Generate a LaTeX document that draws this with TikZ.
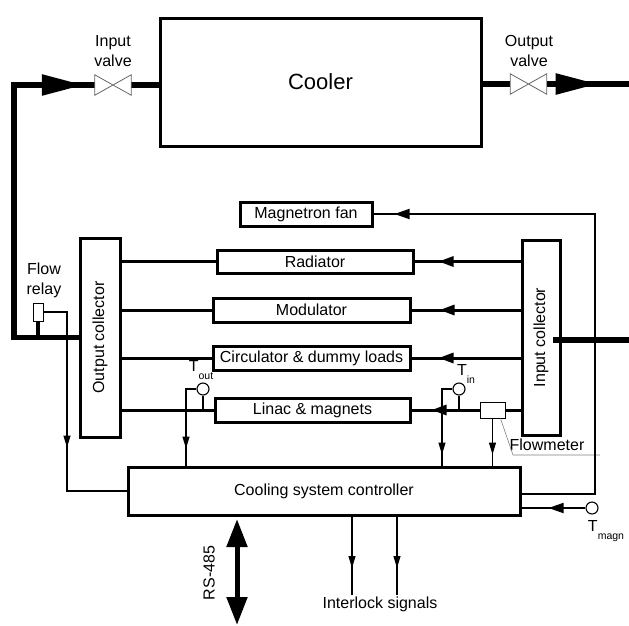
\documentclass[tikz,border=0pt]{standalone}
\usepackage{fontspec}
\setmainfont{Liberation Sans}
\usetikzlibrary{arrows.meta,decorations.markings}

\newcommand{\tsub}[2]{#1\raisebox{-0.45em}{\fontsize{10.5}{11}\selectfont #2}}

\begin{document}
\begin{tikzpicture}[x=1pt,y=-1pt,
		every node/.style={font=\fontsize{16}{20}\selectfont},
		box/.style={draw,line width=3pt,inner sep=0pt},
		pipe/.style={line width=5.5pt},
		feed/.style={line width=3pt},
		wire/.style={line width=1.8pt},
		sigline/.style={line width=1.1pt},
		valveline/.style={draw=black!60,fill=white,line width=0.8pt},
		sensor/.style={circle,draw,line width=1.1pt,fill=white,minimum size=12pt,inner sep=0pt},
		pipetip/.style={postaction={decorate},decoration={markings,mark=at position #1 with {\arrow{Triangle[length=42pt,width=20pt]}}}},
		flowtip/.style={postaction={decorate},decoration={markings,mark=at position #1 with {\arrow{Triangle[length=15pt,width=10pt]}}}},
		sigtip/.style={postaction={decorate},decoration={markings,mark=at position #1 with {\arrow{Triangle[length=12pt,width=7pt]}}}}]
	\useasboundingbox (0,0) rectangle (629,625);
	% cooler and valves
	\node[box,minimum width=321pt,minimum height=128pt,font=\fontsize{22}{24}\selectfont] (cooler) at (320.5,82) {Cooler};
	\node[inner sep=0pt,minimum width=36pt,minimum height=20pt] (inv) at (113,85) {};
	\node[inner sep=0pt,minimum width=36pt,minimum height=20pt] (outv) at (528.5,84) {};
	\node[align=center] (invlab) at (113,51) {Input\\valve};
	\node[align=center] (outvlab) at (529,51) {Output\\valve};
	% collectors
	\node[box,minimum width=40pt,minimum height=199pt] (outcol) at (100,337.5) {\rotatebox{90}{Output collector}};
	\node[box,minimum width=38pt,minimum height=195pt] (incol) at (541,337.5) {\rotatebox{90}{Input collector}};
	% loads
	\node[box,minimum width=132pt,minimum height=24pt] (fan) at (306,214) {Magnetron fan};
	\node[box,minimum width=196pt,minimum height=23pt] (rad) at (315,261.5) {Radiator};
	\node[box,minimum width=197pt,minimum height=24pt] (mod) at (311.5,310) {Modulator};
	\node[box,minimum width=197pt,minimum height=24pt] (circ) at (311.5,358) {Circulator \& dummy loads};
	\node[box,minimum width=195pt,minimum height=24pt] (linac) at (312.5,410) {Linac \& magnets};
	\node[box,minimum width=392pt,minimum height=48pt] (ctrl) at (324,491) {Cooling system controller};
	% sensors
	\node[draw,line width=1pt,minimum width=10pt,minimum height=18pt,inner sep=0pt] (relay) at (38,312) {};
	\node[align=center] (relaylab) at (44,280) {Flow\\relay};
	\node[draw,line width=1pt,fill=white,minimum width=25pt,minimum height=16pt,inner sep=0pt] (flowm) at (492.5,410) {};
	\node (flowlab) at (547,445) {Flowmeter};
	\node[sensor] (tout) at (203,389) {};
	\node[sensor] (tin) at (459,389) {};
	\node[sensor] (tmagn) at (592,508) {};
	\node (toutlab) at (201,370) {\tsub{T}{out}};
	\node (tinlab) at (466,374) {\tsub{T}{in}};
	\node (tmagnlab) at (606,531) {\tsub{T}{magn}};
	\node[rotate=90] (rslab) at (209,573) {RS-485};
	\node (illab) at (380,604) {Interlock signals};

	\coordinate (pbl) at (14,337.5);
	\coordinate (ptl) at (14,85);
	\coordinate (poutr) at (629,84);
	\coordinate (pinr) at (629,340);
	\coordinate (pinl) at (553,340);
	\coordinate (relayb) at (67,312);
	\coordinate (toutb) at (186,389);
	\coordinate (tinb) at (442,389);
	\coordinate (fanb) at (595,494);
	\coordinate (ctrlfan) at (520,494);
	\coordinate (flk) at (513,455);
	\coordinate (fle) at (600,455);
	\coordinate (rst) at (237,519);
	\coordinate (rsb) at (237,625);
	\coordinate (il1) at (352,595);
	\coordinate (il2) at (397,595);

	% pipes
	\draw[pipe,pipetip=-11pt] (outcol.west) -- (pbl) -- (ptl) -- (inv.west);
	\draw[pipe] (inv.east) -- (inv.east -| cooler.west);
	\draw[pipe] (outv.west) -- (outv.west -| cooler.east);
	\draw[pipe,pipetip=51pt] (outv.east) -- (poutr);
	\draw[pipe] (pinr) -- (pinl);
	\draw[line width=4pt] (relay.south) -- (relay.south |- pbl);
	\draw[valveline] (inv.north west) -- (inv.south east) -- (inv.north east) -- (inv.south west) -- cycle;
	\draw[valveline] (outv.north west) -- (outv.south east) -- (outv.north east) -- (outv.south west) -- cycle;

	% water to and from the loads
	\draw[feed] (outcol.east |- rad) -- (rad.west);
	\draw[feed] (outcol.east |- mod) -- (mod.west);
	\draw[feed] (outcol.east |- circ) -- (circ.west);
	\draw[feed] (outcol.east |- linac) -- (linac.west);
	\draw[feed,flowtip=-24pt] (incol.west |- rad) -- (rad.east);
	\draw[feed,flowtip=-28pt] (incol.west |- mod) -- (mod.east);
	\draw[feed,flowtip=-27pt] (incol.west |- circ) -- (circ.east);
	\draw[feed] (incol.west |- linac) -- (flowm.east);
	\draw[feed,flowtip=-20pt] (flowm.west) -- (linac.east);

	% signals
	\draw[sigline,sigtip=159pt] (relay.east) -- (relayb) |- (ctrl.west);
	\draw[sigline] (tout.south) -- (tout.south |- linac);
	\draw[sigline,sigtip=-17pt] (tout.west) -- (toutb) -- (toutb |- ctrl.north);
	\draw[sigline] (tin.south) -- (tin.south |- linac);
	\draw[sigline,sigtip=-11pt] (tin.west) -- (tinb) -- (tinb |- ctrl.north);
	\draw[sigline,sigtip=-11pt] (flowm.south) -- (flowm.south |- ctrl.north);
	\draw[black!50,line width=0.6pt] ([xshift=-5pt]flowm.south east) -- (flk) -- (fle);
	\draw[wire,flowtip=-21pt] (ctrlfan) -- (fanb) |- (fan.east);
	\draw[wire,flowtip=-27pt] (tmagn.west) -- (tmagn.west -| ctrl.east);
	\draw[line width=5pt,{Triangle[length=28pt,width=20pt]}-{Triangle[length=28pt,width=20pt]}] (rst) -- (rsb);
	\draw[sigline,sigtip=-27pt] (ctrl.south -| il1) -- (il1);
	\draw[sigline,sigtip=-27pt] (ctrl.south -| il2) -- (il2);
\end{tikzpicture}
\end{document}
